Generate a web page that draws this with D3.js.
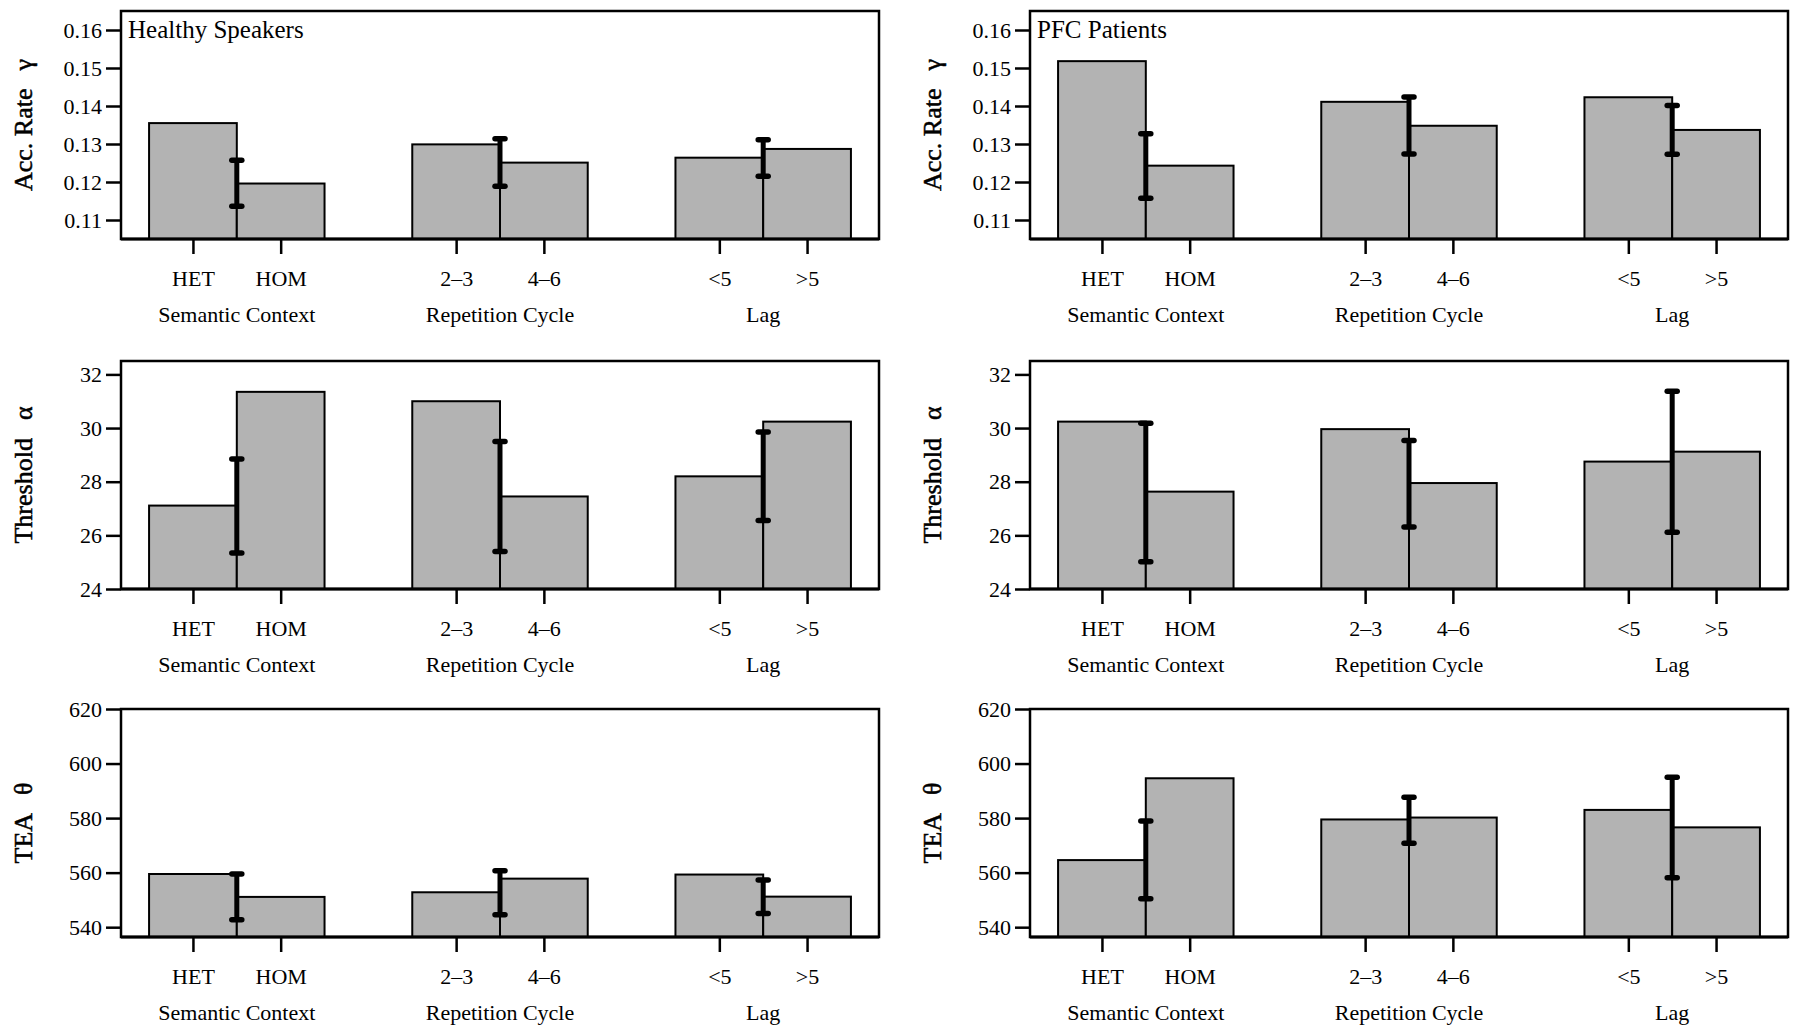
<!DOCTYPE html>
<html>
<head>
<meta charset="utf-8">
<script src="https://cdn.jsdelivr.net/npm/d3@7"></script>
<style>
  html, body { margin: 0; padding: 0; background: #fff; }
  svg text { font-family: "Liberation Serif", "Times New Roman", serif; fill: #000; }
</style>
</head>
<body>
<svg id="chart" width="1800" height="1035"></svg>
<script>
// ---- data ----
const categories = ["HET", "HOM", "2–3", "4–6", "<5", ">5"];
const groups = ["Semantic Context", "Repetition Cycle", "Lag"];
const panelTitles = ["Healthy Speakers", "PFC Patients"];

const healthyAcc = [0.1355, 0.1196, 0.1299, 0.1251, 0.1264, 0.1287];
const healthyAccErrLow = [0.1136, 0.1189, 0.1215];
const healthyAccErrHigh = [0.1257, 0.1314, 0.1311];

const pfcAcc = [0.1518, 0.1243, 0.1411, 0.1348, 0.1423, 0.1337];
const pfcAccErrLow = [0.1157, 0.1274, 0.1273];
const pfcAccErrHigh = [0.1327, 0.1424, 0.1401];

const healthyThr = [27.11, 31.35, 31.0, 27.45, 28.2, 30.24];
const healthyThrErrLow = [25.34, 25.4, 26.55];
const healthyThrErrHigh = [28.85, 29.5, 29.85];

const pfcThr = [30.24, 27.63, 29.96, 27.95, 28.75, 29.12];
const pfcThrErrLow = [25.02, 26.31, 26.12];
const pfcThrErrHigh = [30.18, 29.54, 31.37];

const healthyTea = [559.5, 551.1, 552.8, 557.8, 559.3, 551.2];
const healthyTeaErrLow = [542.7, 544.6, 545.0];
const healthyTeaErrHigh = [559.5, 560.7, 557.3];

const pfcTea = [564.6, 594.6, 579.5, 580.2, 583.0, 576.6];
const pfcTeaErrLow = [550.4, 570.8, 558.1];
const pfcTeaErrHigh = [578.9, 587.6, 595.0];

const accTicks = [0.11, 0.12, 0.13, 0.14, 0.15, 0.16];
const thrTicks = [24, 26, 28, 30, 32];
const teaTicks = [540, 560, 580, 600, 620];

const accDomain = [0.105, 0.165];
const thrDomain = [24, 32.5];
const teaDomain = [536.4, 620];

const yLabels = [["Acc. Rate", "γ"], ["Threshold", "α"], ["TEA", "θ"]];

// ---- layout ----
const colLeft = [121, 1030];
const rowTop = [11, 361, 709];
const panelW = 758, panelH = 228;
const barPos = [0, 1, 3, 4, 6, 7];       // left edge of each bar in bar units
const errPos = [1, 4, 7];                 // error bars between paired bars
const groupCenters = [1, 4, 7];

const rows = [
  { ticks: accTicks, domain: accDomain, fmt: d3.format(".2f"),
    data: [[healthyAcc, healthyAccErrLow, healthyAccErrHigh], [pfcAcc, pfcAccErrLow, pfcAccErrHigh]] },
  { ticks: thrTicks, domain: thrDomain, fmt: d3.format("d"),
    data: [[healthyThr, healthyThrErrLow, healthyThrErrHigh], [pfcThr, pfcThrErrLow, pfcThrErrHigh]] },
  { ticks: teaTicks, domain: teaDomain, fmt: d3.format("d"),
    data: [[healthyTea, healthyTeaErrLow, healthyTeaErrHigh], [pfcTea, pfcTeaErrLow, pfcTeaErrHigh]] }
];

const svg = d3.select("#chart");

rows.forEach((row, ri) => {
  [0, 1].forEach(ci => {
    const [vals, lo, hi] = row.data[ci];
    const g = svg.append("g").attr("transform", `translate(${colLeft[ci]},${rowTop[ri]})`);
    const x = d3.scaleLinear().domain([-0.32, 8.32]).range([0, panelW]);
    const y = d3.scaleLinear().domain(row.domain).range([panelH, 0]);

    // bars
    g.selectAll("rect.bar").data(vals).join("rect")
      .attr("class", "bar")
      .attr("x", (d, i) => x(barPos[i]))
      .attr("width", (d, i) => x(barPos[i] + 1) - x(barPos[i]))
      .attr("y", d => y(d))
      .attr("height", d => panelH - y(d))
      .attr("fill", "#b3b3b3")
      .attr("stroke", "#000")
      .attr("stroke-width", 2);

    // error bars
    const eg = g.selectAll("g.err").data(errPos).join("g").attr("class", "err");
    eg.append("line")
      .attr("x1", d => x(d)).attr("x2", d => x(d))
      .attr("y1", (d, i) => y(lo[i])).attr("y2", (d, i) => y(hi[i]))
      .attr("stroke", "#000").attr("stroke-width", 5);
    [lo, hi].forEach(arr => {
      eg.append("line")
        .attr("x1", d => x(d) - 5).attr("x2", d => x(d) + 5)
        .attr("y1", (d, i) => y(arr[i])).attr("y2", (d, i) => y(arr[i]))
        .attr("stroke", "#000").attr("stroke-width", 5.5).attr("stroke-linecap", "round");
    });

    // box
    g.append("rect").attr("x", 0).attr("y", 0).attr("width", panelW).attr("height", panelH)
      .attr("fill", "none").attr("stroke", "#000").attr("stroke-width", 2.5);
    g.append("line").attr("x1", 0).attr("x2", panelW).attr("y1", panelH).attr("y2", panelH)
      .attr("stroke", "#000").attr("stroke-width", 3);

    // y axis
    const ya = g.append("g").call(d3.axisLeft(y).tickValues(row.ticks).tickFormat(row.fmt).tickSize(15).tickPadding(4));
    ya.select(".domain").remove();
    ya.selectAll(".tick line").attr("stroke", "#000").attr("stroke-width", 2.5);
    ya.selectAll(".tick text").style("font-size", "22px").style("font-family", "Liberation Serif");

    // x axis
    const xa = g.append("g").attr("transform", `translate(0,${panelH})`)
      .call(d3.axisBottom(x).tickValues(barPos.map(b => b + 0.5)).tickFormat((d, i) => categories[i]).tickSize(15).tickPadding(16));
    xa.select(".domain").remove();
    xa.selectAll(".tick line").attr("stroke", "#000").attr("stroke-width", 2.5);
    xa.selectAll(".tick text").style("font-size", "22px").style("font-family", "Liberation Serif");

    // group labels
    g.selectAll("text.grp").data(groups).join("text")
      .attr("class", "grp")
      .attr("x", (d, i) => x(groupCenters[i]))
      .attr("y", panelH + 83)
      .attr("text-anchor", "middle")
      .style("font-size", "22px")
      .text(d => d);

    // y label
    const yl = g.append("text")
      .attr("transform", `translate(${-98},${panelH / 2}) rotate(-90)`)
      .attr("text-anchor", "middle")
      .attr("dy", "0.35em")
      .attr("stroke", "#000").attr("stroke-width", 0.5)
      .style("font-size", "26px");
    yl.append("tspan").text(yLabels[ri][0]);
    yl.append("tspan").attr("dx", 18).text(yLabels[ri][1]);

    // title
    if (ri === 0) {
      g.append("text").attr("x", 7).attr("y", 27).style("font-size", "25px").text(panelTitles[ci]);
    }
  });
});
</script>
</body>
</html>
